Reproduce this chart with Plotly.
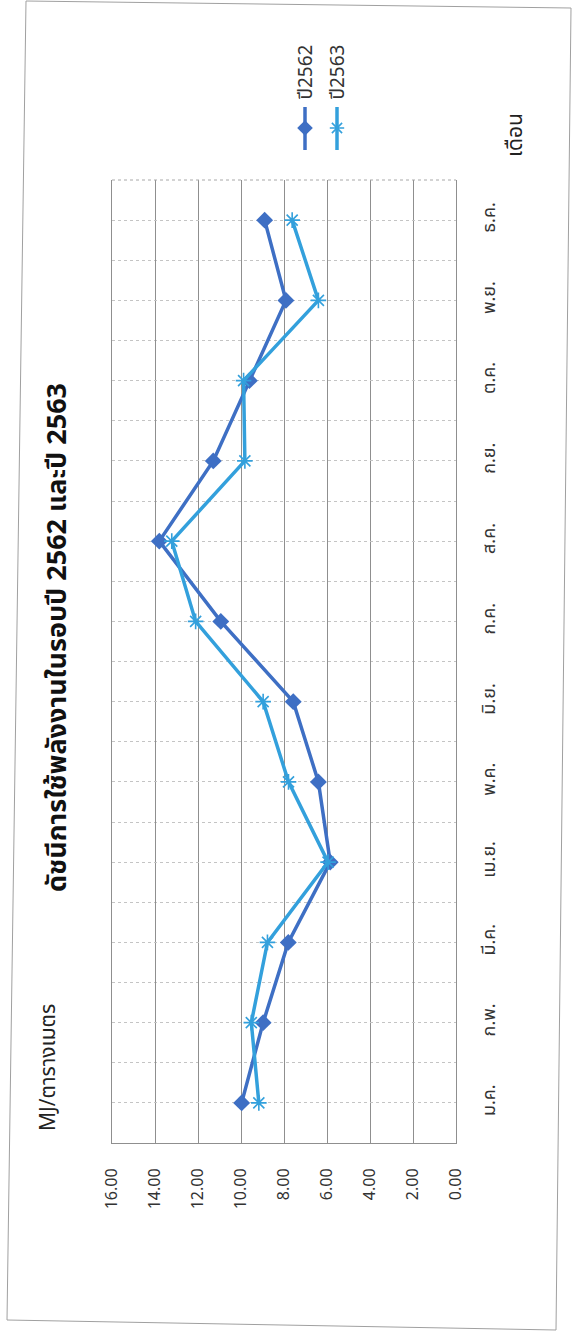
import plotly.graph_objects as go

# Monthly energy-use index (MJ per square metre), years 2562 and 2563 (B.E.)
months = ["ม.ค.", "ก.พ.", "มี.ค.", "เม.ย.", "พ.ค.", "มิ.ย.",
          "ก.ค.", "ส.ค.", "ก.ย.", "ต.ค.", "พ.ย.", "ธ.ค."]
year_2562 = [9.97, 8.97, 7.80, 5.85, 6.40, 7.57, 10.94, 13.80, 11.29, 9.61, 7.91, 8.90]
year_2563 = [9.17, 9.52, 8.77, 5.95, 7.79, 8.97, 12.11, 13.22, 9.82, 9.88, 6.40, 7.62]
series_names = ["ปี2562", "ปี2563"]
value_ticks = [0, 2, 4, 6, 8, 10, 12, 14, 16]

title_text = "ดัชนีการใช้พลังงานในรอบปี 2562 และปี 2563"
unit_text = "MJ/ตารางเมตร"
month_axis_text = "เดือน"

W, H = 573, 1337
# plot box in page pixels (page is laid out in portrait, chart turned a quarter)
PL, PR, PT, PB = 112, 456, 180, 1143

C62 = "#3E6FC4"
C63 = "#33A0DC"
FONT = "Noto Sans Thai, Tahoma, Noto Sans, DejaVu Sans, sans-serif"

month_pos = list(range(len(months)))

fig = go.Figure()

fig.add_trace(go.Scatter(
    x=year_2562, y=month_pos, mode="lines+markers", name=series_names[0],
    line=dict(color=C62, width=3.5),
    marker=dict(symbol="diamond", size=13, color=C62),
    xaxis="x", yaxis="y", showlegend=False,
))
fig.add_trace(go.Scatter(
    x=year_2563, y=month_pos, mode="lines+markers", name=series_names[1],
    line=dict(color=C63, width=3.5),
    marker=dict(symbol="asterisk-open", size=13, color=C63,
                line=dict(color=C63, width=1.6)),
    xaxis="x", yaxis="y", showlegend=False,
))

# legend glyphs, drawn in page-pixel space (x2/y2)
leg_x = [305, 337]
leg_styles = [
    dict(symbol="diamond", size=12, color=C62),
    dict(symbol="asterisk-open", size=12, color=C63, line=dict(color=C63, width=1.6)),
]
for lx, col, mk in zip(leg_x, [C62, C63], leg_styles):
    fig.add_trace(go.Scatter(
        x=[lx, lx], y=[107, 150], mode="lines",
        line=dict(color=col, width=3.5), xaxis="x2", yaxis="y2",
        showlegend=False, hoverinfo="skip"))
    fig.add_trace(go.Scatter(
        x=[lx], y=[128], mode="markers", marker=mk,
        xaxis="x2", yaxis="y2", showlegend=False, hoverinfo="skip"))

grid_dot = "#c4c4c4"
grid_solid = "#8f8f8f"

fig.update_layout(
    width=W, height=H,
    margin=dict(l=0, r=0, t=0, b=0),
    paper_bgcolor="white",
    plot_bgcolor="rgba(0,0,0,0)",
    font=dict(family=FONT, color="#333333"),
    xaxis=dict(
        domain=[PL / W, PR / W], anchor="y",
        range=[16, 0], tickvals=value_ticks, tickformat=".2f",
        tickangle=-90, ticks="", ticklabelstandoff=18,
        tickfont=dict(size=16, color="#333333"),
        showgrid=True, gridcolor=grid_solid, gridwidth=1,
        zeroline=False, showline=True, linecolor=grid_solid, linewidth=1,
        automargin=False,
    ),
    yaxis=dict(
        domain=[1 - PB / H, 1 - PT / H], anchor="x", side="right",
        range=[-0.5, len(months) - 0.5],
        tickvals=month_pos, ticktext=months,
        tickangle=-90, ticks="", ticklabelstandoff=16,
        tickfont=dict(size=18, color="#333333"),
        showgrid=True, gridcolor=grid_dot, gridwidth=1, griddash="dot",
        minor=dict(tickvals=[k - 0.5 for k in range(len(months) + 1)],
                   showgrid=True, gridcolor=grid_dot, gridwidth=1, griddash="dot"),
        zeroline=False, showline=True, mirror=True,
        linecolor=grid_solid, linewidth=1,
        automargin=False,
    ),
    xaxis2=dict(domain=[0, 1], anchor="y2", range=[0, W], visible=False,
                fixedrange=True),
    yaxis2=dict(domain=[0, 1], anchor="x2", range=[H, 0], visible=False,
                fixedrange=True),
)

# page frame
fig.add_shape(type="path", xref="x2", yref="y2",
              path="M 26,1 L 571,8 L 556,1330 L 7,1320 Z",
              line=dict(color="#a0a0a0", width=1), layer="below")
# dotted upper edge of the plot box
fig.add_shape(type="line", xref="paper", yref="paper",
              x0=PL / W, x1=PR / W, y0=1 - PT / H, y1=1 - PT / H,
              line=dict(color="#a8a8a8", width=1, dash="dot"))

# title, unit label, month-axis label, legend text (all rotated)
fig.add_annotation(x=57, y=638, xref="x2", yref="y2", text="<b>" + title_text + "</b>",
                   textangle=-90, showarrow=False,
                   font=dict(size=27, color="#111111", family=FONT))
fig.add_annotation(x=48, y=1068, xref="x2", yref="y2", text=unit_text,
                   textangle=-90, showarrow=False,
                   font=dict(size=21, color="#222222", family=FONT))
fig.add_annotation(x=515, y=135, xref="x2", yref="y2", text=month_axis_text,
                   textangle=-90, showarrow=False,
                   font=dict(size=21, color="#222222", family=FONT))
for lx, name in zip(leg_x, series_names):
    fig.add_annotation(x=lx + 1, y=102, xref="x2", yref="y2", text=name,
                       textangle=-90, showarrow=False, yanchor="bottom",
                       font=dict(size=19, color="#333333", family=FONT))

fig.write_html("out.html")
